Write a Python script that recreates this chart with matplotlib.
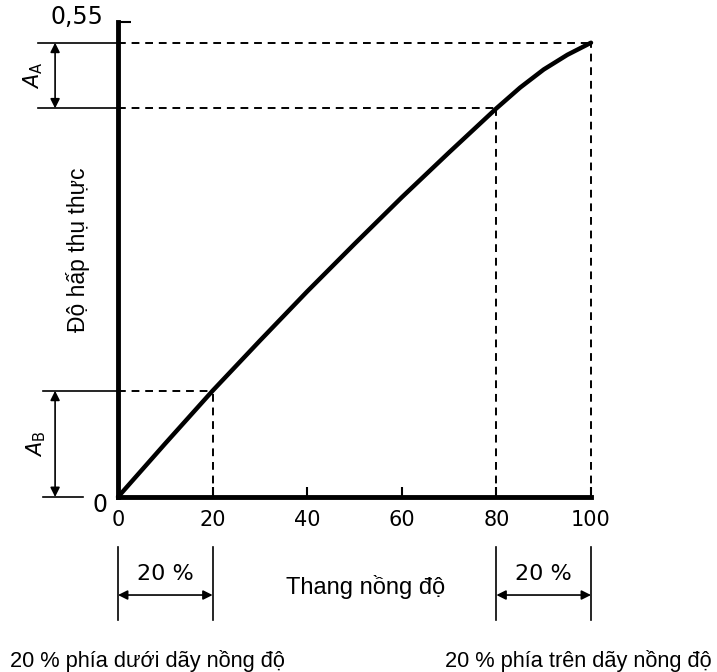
import matplotlib.pyplot as plt

# calibration curve
conc = [0, 10, 20, 30, 40, 50, 60, 70, 80, 85, 90, 95, 100]
absorb = [0, 0.062, 0.123, 0.181, 0.238, 0.293, 0.347, 0.399, 0.450,
          0.474, 0.495, 0.512, 0.526]
xticks = [0, 20, 40, 60, 80, 100]
ymax = 0.55
ylabels = ["0", "0,55"]
low_x, high_x = 20, 80
a_low = 0.123
a_high = 0.450
a_top = 0.526

plt.rcParams['font.family'] = ['Liberation Sans', 'DejaVu Sans']
fig = plt.figure(figsize=(7.17, 6.72), dpi=100)
ax = fig.add_axes([118/717, 175/672, 473/717, 475/672])
ax.set_xlim(0, 100)
ax.set_ylim(0, ymax)

ax.plot(conc, absorb, color="black", lw=3.2, solid_capstyle="round",
        solid_joinstyle="round", clip_on=False)

for s in ["top", "right"]:
    ax.spines[s].set_visible(False)
ax.spines["left"].set_linewidth(3.5)
ax.spines["bottom"].set_linewidth(3.5)

ax.set_xticks(xticks)
ax.set_xticklabels([str(t) for t in xticks], family="DejaVu Sans", fontsize=15)
ax.tick_params(axis="x", direction="in", length=7, width=1.5, pad=9)
ax.set_yticks([ymax])
ax.set_yticklabels([""])
ax.tick_params(axis="y", direction="in", length=9, width=1.5)

ax.text(-3.8, -0.009, ylabels[0], ha="center", va="center", fontsize=17, family="DejaVu Sans")
ax.text(-8.6, 0.556, ylabels[1], ha="center", va="center", fontsize=17, family="DejaVu Sans")

dash = dict(color="black", lw=1.4, linestyle=(0, (4, 3)), clip_on=False)
solid = dict(color="black", lw=1.2, clip_on=False)

# horizontal guides
ax.plot([-16.9, 0], [a_top, a_top], **solid)
ax.plot([0, 100], [a_top, a_top], **dash)
ax.plot([-16.9, 0], [a_high, a_high], **solid)
ax.plot([0, high_x], [a_high, a_high], **dash)
ax.plot([-15.8, 0], [a_low, a_low], **solid)
ax.plot([0, low_x], [a_low, a_low], **dash)
ax.plot([-15.8, -7.4], [0, 0], **solid)

# vertical guides
ax.plot([low_x, low_x], [0, a_low], **dash)
ax.plot([high_x, high_x], [0, a_high], **dash)
ax.plot([100, 100], [0, a_top], **dash)

arrow = dict(arrowstyle="<|-|>", color="black", lw=1.2, mutation_scale=14,
             shrinkA=0, shrinkB=0)
ax.annotate("", xy=(-13.3, a_top), xytext=(-13.3, a_high), arrowprops=arrow,
            annotation_clip=False)
ax.annotate("", xy=(-13.3, a_low), xytext=(-13.3, 0), arrowprops=arrow,
            annotation_clip=False)
ax.text(-18.0, (a_top + a_high) / 2, r"$A_\mathrm{A}$", rotation=90,
        ha="center", va="center", fontsize=15)
ax.text(-17.2, a_low / 2, r"$A_\mathrm{B}$", rotation=90,
        ha="center", va="center", fontsize=15)

ax.text(-8.5, 0.286, "Độ hấp thụ thực", rotation=90, ha="center", va="center",
        fontsize=16.5)

# 20 % spans under the axis
for x0, x1 in [(0, low_x), (high_x, 100)]:
    ax.plot([x0, x0], [-0.058, -0.142], **solid)
    ax.plot([x1, x1], [-0.058, -0.142], **solid)
    ax.annotate("", xy=(x0, -0.1135), xytext=(x1, -0.1135), arrowprops=arrow,
                annotation_clip=False)
    ax.text((x0 + x1) / 2, -0.089, "20 %", ha="center", va="center",
            fontsize=16, family="DejaVu Sans")

ax.text(52.4, -0.104, "Thang nồng độ", ha="center", va="center", fontsize=17)
ax.text(-22.8, -0.197, "20 % phía dưới dãy nồng độ", ha="left", va="baseline", fontsize=15.7)
ax.text(69.1, -0.197, "20 % phía trên dãy nồng độ", ha="left", va="baseline", fontsize=15.7)

fig.savefig("out.png", dpi=100)
